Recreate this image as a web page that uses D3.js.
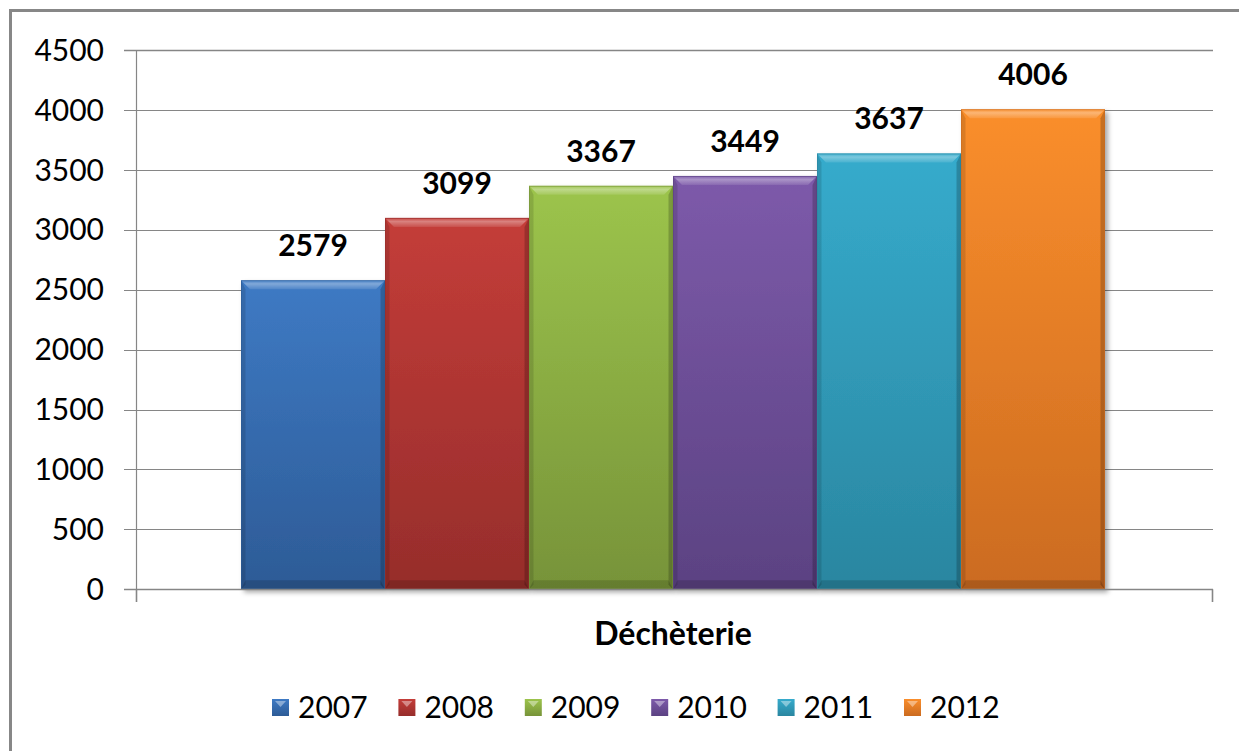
<!DOCTYPE html>
<html><head><meta charset="utf-8">
<script src="https://cdn.jsdelivr.net/npm/d3@7"></script>
<style>html,body{margin:0;padding:0;background:#fff;}svg{display:block;}</style>
</head><body>
<script>
const categories = ["Déchèterie"];
const years = ["2007","2008","2009","2010","2011","2012"];
const values = [2579, 3099, 3367, 3449, 3637, 4006];
const yTicks = [0,500,1000,1500,2000,2500,3000,3500,4000,4500];
const colorsTop = ["#3e7ac4","#c43d39","#9cc44c","#7d5aaa","#36abcc","#fa8e2c"];
const colorsBot = ["#2d5b96","#962d2b","#779339","#5b4282","#2a86a0","#cb6b20"];

(function(){
const W = 1239, H = 751;
const svg = d3.select("body").append("svg").attr("width", W).attr("height", H);
const defs = svg.append("defs");

svg.append("rect").attr("x",10.5).attr("y",10.5).attr("width",1300).attr("height",900)
  .attr("fill","none").attr("stroke","#878787").attr("stroke-width",3);

const pL = 136, pR = 1213, pT = 50, pB = 589.3;
const y = d3.scaleLinear().domain([0,4500]).range([pB, pT]);
const x0 = d3.scaleBand().domain(categories).range([pL, pR]).padding(0);
const x1 = d3.scaleBand().domain(years).range([x0(categories[0]) - 3, x0(categories[0]) + x0.bandwidth()])
  .paddingInner(0).paddingOuter(0.75);

years.forEach((yr,i)=>{
  const g = defs.append("linearGradient").attr("id","g"+i).attr("x1",0).attr("y1",0).attr("x2",0).attr("y2",1);
  g.append("stop").attr("offset","0%").attr("stop-color",colorsTop[i]);
  g.append("stop").attr("offset","100%").attr("stop-color",colorsBot[i]);
});
const hl = defs.append("linearGradient").attr("id","hl").attr("x1",0).attr("y1",0).attr("x2",0).attr("y2",1);
hl.append("stop").attr("offset","0%").attr("stop-color","#fff").attr("stop-opacity",0.05);
hl.append("stop").attr("offset","40%").attr("stop-color","#fff").attr("stop-opacity",0.35);
hl.append("stop").attr("offset","100%").attr("stop-color","#fff").attr("stop-opacity",0.1);
const f = defs.append("filter").attr("id","sh").attr("x","-10%").attr("y","-10%").attr("width","130%").attr("height","130%");
f.append("feDropShadow").attr("dx",3).attr("dy",3).attr("stdDeviation",2.5).attr("flood-color","#000").attr("flood-opacity",0.35);

const grid = svg.append("g");
yTicks.forEach(t=>{
  grid.append("line").attr("x1",124).attr("x2",pR).attr("y1",Math.round(y(t))+0.5).attr("y2",Math.round(y(t))+0.5)
    .attr("stroke","#868686").attr("stroke-width",t===4500?1.6:1.2);
});
svg.append("line").attr("x1",pL+0.5).attr("x2",pL+0.5).attr("y1",pT).attr("y2",pB)
  .attr("stroke","#868686").attr("stroke-width",1.2);
const yAxis = d3.axisLeft(y).tickValues(yTicks).tickFormat(d3.format("d")).tickSize(0).tickPadding(0);
const ya = svg.append("g").attr("transform",`translate(104,0)`).call(yAxis);
ya.select(".domain").remove();
ya.selectAll("text").attr("font-family","Lato").attr("font-size",30).attr("fill","#000").attr("dy","0.34em");

const bars = svg.append("g");
years.forEach((yr,i)=>{
  const bx = x1(yr), bw = x1.bandwidth(), by = y(values[i]), bh = pB - by;
  const gg = bars.append("g");
  gg.append("rect").attr("x",bx).attr("y",by).attr("width",bw).attr("height",bh)
    .attr("fill","url(#g"+i+")").attr("filter","url(#sh)");
  const b = 9;
  gg.append("path").attr("d",`M${bx},${by}L${bx+bw},${by}L${bx+bw-b},${by+b}L${bx+b},${by+b}Z`)
    .attr("fill","url(#hl)");
  gg.append("path").attr("d",`M${bx},${by}L${bx+b*0.5},${by+b}L${bx+b*0.5},${pB-b*0.5}L${bx},${pB}Z`)
    .attr("fill","#000").attr("opacity",0.12);
  gg.append("path").attr("d",`M${bx+bw},${by}L${bx+bw-b*0.5},${by+b}L${bx+bw-b*0.5},${pB-b*0.5}L${bx+bw},${pB}Z`)
    .attr("fill","#000").attr("opacity",0.2);
  gg.append("path").attr("d",`M${bx},${pB}L${bx+b*0.5},${pB-b}L${bx+bw-b*0.5},${pB-b}L${bx+bw},${pB}Z`)
    .attr("fill","#000").attr("opacity",0.15);
  gg.append("rect").attr("x",bx+0.5).attr("y",by+0.5).attr("width",bw-1).attr("height",bh-1)
    .attr("fill","none").attr("stroke",colorsBot[i]).attr("stroke-opacity",0.6);
  svg.append("text").attr("x",bx+bw/2).attr("y",by-24).attr("text-anchor","middle")
    .attr("font-family","Lato").attr("font-weight","bold").attr("font-size",30).attr("fill","#000")
    .text(values[i]);
});

svg.append("line").attr("x1",124).attr("x2",pR).attr("y1",Math.round(pB)+0.5).attr("y2",Math.round(pB)+0.5)
  .attr("stroke","#868686").attr("stroke-width",1.6);
[pL+0.5, pR-0.5].forEach(xx=>{
  svg.append("line").attr("x1",xx).attr("x2",xx).attr("y1",pB).attr("y2",602)
    .attr("stroke","#868686").attr("stroke-width",1.6);
});
svg.append("text").attr("x",673).attr("y",645).attr("text-anchor","middle")
  .attr("font-family","Lato").attr("font-weight","bold").attr("font-size",32).attr("fill","#000")
  .text(categories[0]);

const leg = svg.append("g");
const legX = d3.scaleLinear().domain([0,5]).range([272,904]);
years.forEach((yr,i)=>{
  const lx = legX(i), ly = 699;
  leg.append("rect").attr("x",lx).attr("y",ly).attr("width",17).attr("height",17).attr("fill","url(#g"+i+")");
  leg.append("path").attr("d",`M${lx+3},${ly+2}L${lx+14},${ly+2}L${lx+8.5},${ly+8}Z`).attr("fill","#fff").attr("opacity",0.4);
  leg.append("text").attr("x",lx+26).attr("y",ly+8.5).attr("dy","0.35em")
    .attr("font-family","Lato").attr("font-size",30).attr("fill","#000").text(yr);
});
})();
</script>
</body></html>
